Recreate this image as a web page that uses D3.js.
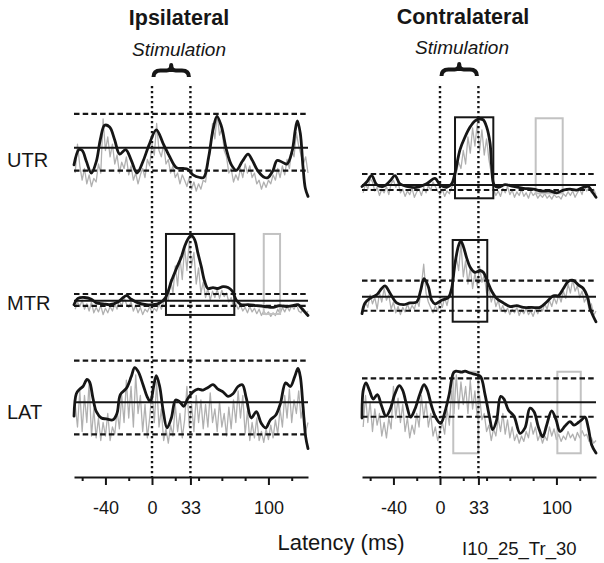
<!DOCTYPE html>
<html><head><meta charset="utf-8">
<script src="https://cdn.jsdelivr.net/npm/d3@7/dist/d3.min.js"></script>
<style>
body{margin:0;background:#fff;}
svg{display:block;font-family:"Liberation Sans",Arial,Helvetica,sans-serif;}
</style></head><body>
<svg id="chart" width="604" height="563"></svg>
<script>
// ---------------- DATA ----------------
const rowLabels = ["UTR", "MTR", "LAT"];
const sideTitles = ["Ipsilateral", "Contralateral"];
const stimLabel = "Stimulation";
const stimWindow = [0, 33];
const majorTicks = [-40, 0, 33, 100];
const minorTicks = [-60, -20, 20, 40, 60, 80, 120];
const latencyDomain = [-67, 134];
const xLabel = "Latency (ms)";
const caption = "I10_25_Tr_30";
const binStart = -66, binWidth = 2;   // raw histogram bins (ms)

// threshold levels (relative rate units, 0-100 per row)
const meanIpsi = [58.1, 21.4, 47.4];
const upperIpsi = [95.6, 28.9, 93.7];
const lowerIpsi = [32.6, 15.6, 11.9];
const meanContra = [16.7, 25.9, 47.4];
const upperContra = [28.9, 43.7, 74.1];
const lowerContra = [11.1, 10.3, 31.4];

// response windows [tStart, tEnd, vLow, vHigh]
const respWindowIpsi = [[], [[12, 70.7, 5.6, 95.6]], []];
const ctrlWindowIpsi = [[], [[96, 110, 6.7, 95.6]], []];
const respWindowContra = [[[12.9, 45.8, 1.9, 91.9]], [[10.9, 40.6, -1.9, 88.9]], []];
const ctrlWindowContra = [[[82.2, 105.4, 7.4, 90.8]], [], [[11.4, 32.9, -9.2, 81.4], [100.8, 120.9, -9.2, 81.4]]];

// raw (gray) histograms, one value per 2 ms bin from -66 to 134 ms
const ipsiUTRGray = [30,62,38,22,35,18,28,15,24,20, 40,30,90,55,70,48,62,40,50,30, 42,35,48,28,38,22,30,18,28,35,
  25,45,38,62,50,85,55,48,62,40, 45,30,38,25,30,18,28,22,15,25, 12,20,10,18,12,22,20,40,55,85,
  68,95,72,80,55,48,30,35,20,28, 22,35,25,40,30,38,25,30,18,22, 12,20,14,22,18,28,22,35,25,38,
  28,45,35,55,48,75,60,50,40,48, 30];
const contraUTRGray = [8,18,12,24,20,10,14,5,12,8, 15,6,18,22,14,20,8,12,4,10, 6,13,3,9,12,5,14,8,16,11,
  20,15,10,6,12,4,10,7,14,20, 30,42,35,55,40,70,52,80,60,85, 55,78,50,68,45,30,12,5,10,4,
  13,8,15,6,11,3,9,5,12,4, 8,2,10,5,8,2,6,3,7,2, 5,1,6,3,4,1,7,4,9,5,
  10,3,8,12,6,16,10,14,8,12, 6];
const ipsiMTRGray = [12,20,15,22,12,18,10,20,8,14, 9,16,6,13,8,15,10,18,12,22, 15,25,18,14,20,10,16,8,14,6,
  12,9,15,8,13,10,18,12,20,28, 22,45,30,60,38,70,45,82,55,88, 60,75,40,58,30,42,25,35,22,32,
  25,34,24,33,26,30,20,25,15,18, 12,16,10,14,8,15,9,13,7,12, 5,10,6,9,4,8,5,12,7,14,
  9,15,10,16,12,18,10,8,13,6, 10];
const contraMTRGray = [10,20,14,28,18,25,12,30,20,35, 22,28,12,20,8,15,6,14,9,18, 10,16,12,22,15,38,62,30,20,14,
  8,16,10,22,14,25,16,28,35,50, 70,55,85,48,66,40,58,35,52,38, 60,42,50,30,35,20,28,15,22,10,
  16,8,13,6,12,8,14,5,11,7, 13,6,10,4,12,7,15,10,18,12, 22,15,25,18,28,20,32,24,40,30,
  45,32,38,25,32,20,25,12,18,5, 10];
const ipsiLATGray = [45,20,60,15,55,25,70,10,40,8, 30,5,25,10,35,5,20,12,38,18, 55,25,72,30,65,20,78,35,55,15,
  45,8,30,60,25,70,20,40,5,18, 2,22,10,45,15,35,8,28,65,20, 45,15,55,25,50,18,45,20,58,25,
  40,15,48,20,35,10,42,18,50,25, 60,30,55,12,38,5,25,8,30,5, 15,3,18,6,22,8,28,12,40,20,
  55,30,62,25,50,35,60,30,45,15, 25];
const contraLATGray = [20,55,25,48,15,40,22,35,10,25, 8,30,18,65,30,52,25,45,15,30, 8,22,12,35,20,55,30,48,20,35,
  10,20,5,15,25,12,40,22,60,35, 78,40,70,45,65,35,72,40,60,30, 55,28,35,15,22,5,18,10,30,15,
  35,12,28,8,20,5,12,2,10,4, 15,8,25,12,20,5,12,2,10,5, 20,10,18,6,12,4,10,6,15,8,
  12,5,14,8,16,10,12,4,8,2, 5];

// smoothed (black) traces: [latency ms, value]
const ipsiUTRBlack = [[-67,39],[-62.7,56],[-59.9,55],[-56.4,43],[-52.1,30],[-47.8,43],[-44.4,67],[-40.7,83],[-36.4,81],[-32.1,67],[-27.8,51],[-22.6,56],[-17.8,44],[-12.9,30],[-7.7,43],[-2.6,61],[3.7,78],[9.5,63],[15.2,48],[20.9,36],[26.6,35],[30.9,34],[35.2,28],[41,25],[44.4,25],[48.7,48],[52.4,78],[55.8,93],[59.6,82],[63.9,56],[68.2,39],[72.5,33],[77.6,43],[82.5,51],[86.2,44],[91.1,32],[96.8,25],[99.7,25],[104,33],[107.4,44],[112,42],[116,40],[120.3,54],[123.1,78],[124.9,88],[127.4,74],[129.7,37],[131.7,13],[134,4]];
const contraUTRBlack = [[-67,15],[-63,20],[-58.7,27],[-54.4,17],[-48.7,15],[-43,21],[-38.7,27],[-34.4,18],[-28.6,15],[-20,14],[-11.5,18],[-4.3,24],[0,17],[5.7,14],[10,18],[12.9,30],[17.2,56],[21.5,70],[25.8,81],[30.1,88],[34.4,90],[37.2,89],[40.1,81],[43,63],[44.4,37],[46.4,17],[50.1,14],[55.8,17],[63,15],[71.6,13],[80.2,12],[87.3,10],[94.5,10],[100.2,8],[106,11],[111.7,12],[117.4,11],[123.1,14],[127.4,15],[130.3,10],[134,3]];
const ipsiMTRBlack = [[-67,17],[-63.6,24],[-57.8,25],[-52.1,23],[-47.8,19],[-42.1,18],[-36.4,17],[-29.2,20],[-22,27],[-17.8,23],[-12,19],[-4.9,17],[0.9,17],[6.6,19],[11.7,25],[16.6,43],[20.9,57],[25.2,70],[28.1,82],[30.9,90],[33.8,94],[36.7,89],[39.5,74],[42.4,59],[45.2,43],[48.1,35],[52.4,36],[56.7,35],[61,37],[65.3,36],[69,32],[72.5,22],[76.7,17],[82.5,17],[89.6,16],[96.8,15],[104,14],[109.7,16],[115.4,15],[121.1,16],[125.4,17],[129.2,12],[134,5]];
const contraMTRBlack = [[-67,7],[-64.4,19],[-60.1,24],[-54.4,28],[-50.1,35],[-47.2,38],[-43,30],[-37.2,19],[-31.5,17],[-25.8,19],[-20,20],[-16.6,33],[-13.7,46],[-10,37],[-7.2,22],[-4.3,18],[1.4,22],[7.2,25],[10,35],[12.9,63],[15.8,82],[17.8,88],[20,82],[22.9,69],[25.8,59],[30.1,53],[34.4,55],[37.2,53],[40.7,43],[44.4,32],[48.7,24],[54.4,19],[60.1,15],[65.9,16],[71.6,14],[78.8,14],[85.9,14],[91.6,20],[97.4,27],[101.7,27],[106,35],[110.3,43],[114.5,44],[118.8,39],[123.1,35],[126.6,26],[129.4,11],[134,-2]];
const ipsiLATBlack = [[-67,32],[-65,57],[-62.1,62],[-59.3,65],[-55.8,73],[-53.6,70],[-50.7,52],[-47.8,37],[-43.5,30],[-39.2,29],[-33.5,28],[-30.1,35],[-27.2,56],[-22,63],[-17.8,76],[-14.9,86],[-12,82],[-7.7,67],[-4.3,54],[-1.4,48],[1.4,65],[3.7,77],[6.6,65],[9.5,39],[12.9,19],[16.6,30],[20.3,50],[23.8,48],[27.2,43],[30.9,52],[35.2,59],[39.5,62],[43.8,61],[48.1,64],[52.4,67],[56.7,62],[61,59],[65.3,54],[69.6,57],[73.9,65],[77.6,67],[81,52],[85.3,30],[89.6,37],[93.9,24],[97.7,19],[101.7,28],[106.2,33],[110.3,46],[114.8,69],[118.8,65],[122.6,76],[125.4,85],[127.4,76],[129.7,43],[132,9],[134,-4]];
const contraLATBlack = [[-67,30],[-65.9,61],[-63.6,69],[-60.7,61],[-57.3,51],[-53.8,56],[-50.1,43],[-46.4,32],[-43,39],[-38.7,57],[-35,66],[-32.1,61],[-28.6,44],[-25.2,31],[-21.5,40],[-17.2,57],[-13.7,67],[-10.9,61],[-7.2,43],[-3.4,30],[0.6,24],[4.3,37],[8,57],[11.5,80],[13.7,82],[18.6,81],[21.5,82],[25.8,80],[31.5,78],[34.9,76],[38.7,56],[42.4,32],[45.2,17],[48.7,28],[52.1,54],[55,51],[58.7,39],[63.6,32],[68.7,13],[73,19],[77.3,41],[80.8,37],[84.5,20],[88.2,9],[91.6,22],[95.9,38],[99.7,28],[103.1,15],[107.4,21],[111.7,26],[115.1,22],[118.8,25],[121.7,28],[124.6,31],[127.4,19],[130.3,0],[134,-9]];

// ---------------- LAYOUT ----------------
const svg = d3.select("#chart");
const font = "'Liberation Sans', Arial, Helvetica, sans-serif";
const ink = "#161616";
const grayInk = "#b0b0b0";
const rectGray = "#c2c2c2";
const axisY = 477;
const dotTop = 86;
const rowBottom = [200, 320, 445];
const rowSpan = 90;
const rowLabelY = [167, 310, 419];
const sideLayout = [
  {range: [74, 308], titleX: 179, titleY: 25, stimX: 179, stimY: 56, braceTop: 65},
  {range: [362, 596], titleX: 463, titleY: 23.5, stimX: 462, stimY: 53.5, braceTop: 64}
];

const sideData = [
  {mean: meanIpsi, upper: upperIpsi, lower: lowerIpsi, resp: respWindowIpsi, ctrl: ctrlWindowIpsi,
   gray: [ipsiUTRGray, ipsiMTRGray, ipsiLATGray], black: [ipsiUTRBlack, ipsiMTRBlack, ipsiLATBlack]},
  {mean: meanContra, upper: upperContra, lower: lowerContra, resp: respWindowContra, ctrl: ctrlWindowContra,
   gray: [contraUTRGray, contraMTRGray, contraLATGray], black: [contraUTRBlack, contraMTRBlack, contraLATBlack]}
];

sideLayout.forEach((L, s) => {
  const D = sideData[s];
  const x = d3.scaleLinear().domain(latencyDomain).range(L.range);

  rowLabels.forEach((lab, r) => {
    const y = d3.scaleLinear().domain([0, 100]).range([rowBottom[r], rowBottom[r] - rowSpan]);
    const g = svg.append("g");

    // raw histogram
    const grayVals = D.gray[r];
    const grayLine = d3.line().x((d, i) => x(binStart + i * binWidth)).y(d => y(d));
    g.append("path").attr("d", grayLine(grayVals))
      .attr("fill", "none").attr("stroke", grayInk).attr("stroke-width", 1.3).attr("stroke-linejoin", "round");

    // control windows (gray) and response windows (black)
    D.ctrl[r].forEach(w => {
      g.append("rect").attr("x", x(w[0])).attr("y", y(w[3]))
        .attr("width", x(w[1]) - x(w[0])).attr("height", y(w[2]) - y(w[3]))
        .attr("fill", "none").attr("stroke", rectGray).attr("stroke-width", 2);
    });
    D.resp[r].forEach(w => {
      g.append("rect").attr("x", x(w[0])).attr("y", y(w[3]))
        .attr("width", x(w[1]) - x(w[0])).attr("height", y(w[2]) - y(w[3]))
        .attr("fill", "none").attr("stroke", ink).attr("stroke-width", 2);
    });

    // thresholds
    [D.upper[r], D.lower[r]].forEach(v => {
      g.append("line").attr("x1", x(latencyDomain[0])).attr("x2", x(latencyDomain[1]))
        .attr("y1", y(v)).attr("y2", y(v))
        .attr("stroke", ink).attr("stroke-width", 2.2).attr("stroke-dasharray", "5.5,3.2");
    });
    g.append("line").attr("x1", x(latencyDomain[0])).attr("x2", x(latencyDomain[1]))
      .attr("y1", y(D.mean[r])).attr("y2", y(D.mean[r]))
      .attr("stroke", ink).attr("stroke-width", 2);

    // smoothed trace
    const blackLine = d3.line().x(d => x(d[0])).y(d => y(d[1])).curve(d3.curveCatmullRom.alpha(0.5));
    g.append("path").attr("d", blackLine(D.black[r]))
      .attr("fill", "none").attr("stroke", ink).attr("stroke-width", 2.8)
      .attr("stroke-linejoin", "round").attr("stroke-linecap", "round");

    if (s === 0) {
      svg.append("text").attr("x", 7).attr("y", rowLabelY[r])
        .attr("font-size", 20).attr("fill", ink).text(lab);
    }
  });

  // stimulation dotted lines
  stimWindow.forEach(t => {
    svg.append("line").attr("x1", x(t)).attr("x2", x(t)).attr("y1", dotTop).attr("y2", axisY)
      .attr("stroke", ink).attr("stroke-width", 2.4).attr("stroke-dasharray", "2.2,2.8");
  });

  // brace over stimulation window
  const x0 = x(stimWindow[0]), x1 = x(stimWindow[1]), xm = (x0 + x1) / 2, w = x1 - x0;
  const t0 = L.braceTop, mid = t0 + 5.5, bot = t0 + 12;
  const bp = `M${x0+1.5},${bot} Q${x0+1.5},${mid} ${x0 + w*0.22},${mid} L${xm - w*0.12},${mid} Q${xm},${mid} ${xm},${t0}` +
             ` Q${xm},${mid} ${xm + w*0.12},${mid} L${x1 - w*0.22},${mid} Q${x1-1.5},${mid} ${x1-1.5},${bot}`;
  svg.append("path").attr("d", bp).attr("fill", "none").attr("stroke", ink)
    .attr("stroke-width", 4).attr("stroke-linejoin", "round");

  svg.append("text").attr("x", L.stimX).attr("y", L.stimY).attr("text-anchor", "middle")
    .attr("font-size", 19).attr("font-style", "italic").attr("fill", ink).text(stimLabel);
  svg.append("text").attr("x", L.titleX).attr("y", L.titleY).attr("text-anchor", "middle")
    .attr("font-size", 21.5).attr("font-weight", "bold").attr("fill", ink).text(sideTitles[s]);

  // axis
  const gMinor = svg.append("g").attr("transform", `translate(0,${axisY})`)
    .call(d3.axisBottom(x).tickValues(minorTicks).tickSize(4).tickSizeOuter(0).tickFormat(""));
  gMinor.select(".domain").remove();
  const gMajor = svg.append("g").attr("transform", `translate(0,${axisY})`)
    .call(d3.axisBottom(x).tickValues(majorTicks).tickSize(8).tickPadding(16).tickSizeOuter(0).tickFormat(d => String(d)));
  [gMinor, gMajor].forEach(g => {
    g.selectAll("line").attr("stroke", ink).attr("stroke-width", 2);
    g.selectAll(".domain").attr("stroke", ink).attr("stroke-width", 2);
    g.selectAll("text").attr("font-size", 18).attr("font-family", font).attr("fill", ink);
  });
});

svg.append("text").attr("x", 341).attr("y", 550).attr("text-anchor", "middle")
  .attr("font-size", 22).attr("fill", ink).text(xLabel);
svg.append("text").attr("x", 462).attr("y", 555)
  .attr("font-size", 18.5).attr("fill", ink).text(caption);
</script>
</body></html>
